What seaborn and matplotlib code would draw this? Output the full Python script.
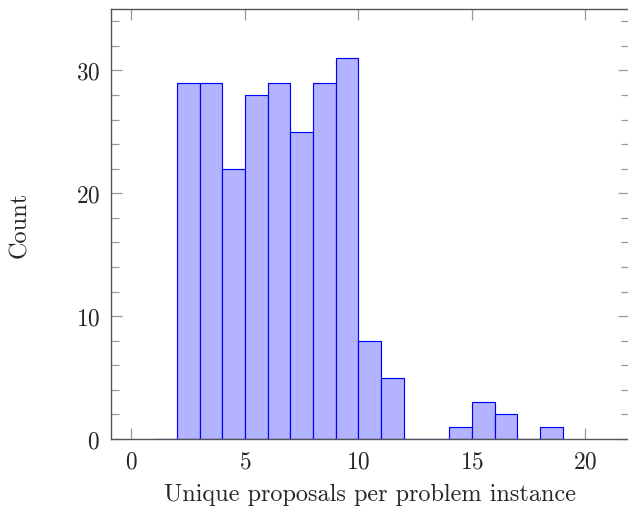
import numpy as np
import pandas as pd
import matplotlib
matplotlib.use("Agg")
import matplotlib.pyplot as plt
import seaborn as sns
from matplotlib.ticker import MultipleLocator

# histogram bins (left edge) and counts, width 1
bin_left = [1, 2, 3, 4, 5, 6, 7, 8, 9, 10, 11, 12, 13, 14, 15, 16, 17, 18]
counts = [0, 29, 29, 22, 28, 29, 25, 29, 31, 8, 5, 0, 0, 1, 3, 2, 0, 1]
bin_edges = list(range(1, 20))

sns.set_style("ticks")
plt.rcParams["font.family"] = ["cmr10", "DejaVu Serif"]
plt.rcParams["mathtext.fontset"] = "cm"
plt.rcParams["axes.formatter.use_mathtext"] = True

df = pd.DataFrame({"value": bin_left, "count": counts})

fig = plt.figure(figsize=(6.28, 5.10), dpi=100)
ax = fig.add_axes([111 / 628, 1 - 440 / 510, 517.5 / 628, 430 / 510])

sns.histplot(data=df, x="value", weights="count", bins=bin_edges, ax=ax,
             color="#b3b3ff", edgecolor="#0000ff", linewidth=0.85, alpha=1.0)

ax.set_xlim(-0.9, 21.9)
ax.set_ylim(0, 35)
ax.set_xticks([0, 5, 10, 15, 20])
ax.set_yticks([0, 10, 20, 30])
ax.yaxis.set_minor_locator(MultipleLocator(2))

for s in ax.spines.values():
    s.set_visible(True)
    s.set_color("#555555")
    s.set_linewidth(1.0)

fs = 17.5
ax.tick_params(which="both", direction="in", top=True, right=True,
               color="#999999", labelsize=16.8)
ax.tick_params(which="major", length=8, width=0.9, pad=8)
ax.tick_params(which="minor", length=5.5, width=0.9)
ax.tick_params(axis="x", which="minor", top=False, bottom=False)

ax.set_xlabel("Unique proposals per problem instance", fontsize=fs, labelpad=8)
ax.set_ylabel("Count", fontsize=fs, labelpad=32)

fig.savefig("out.png", dpi=100)
